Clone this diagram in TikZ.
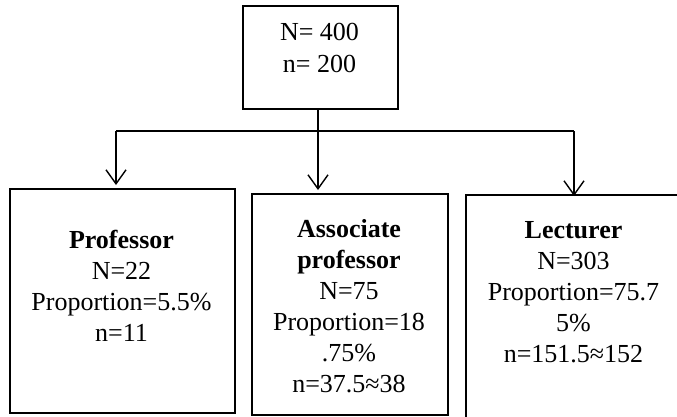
\documentclass[tikz,border=0pt]{standalone}
\usepackage{fontspec}
\setmainfont{Liberation Serif}
\usetikzlibrary{arrows.meta}
\begin{document}
\begin{tikzpicture}[x=1pt,y=-1pt,
 box/.style={draw,line width=1.6pt,inner sep=0pt,anchor=north west},
 txt/.style={align=center,inner sep=0pt,anchor=north,font=\fontsize{26}{31}\selectfont},
 conn/.style={line width=1.4pt},
 arr/.style={conn,-{Straight Barb[length=14pt,width=20pt,line width=1.4pt]}}]
\useasboundingbox (0,0) rectangle (677,416);
\clip (0,0) rectangle (677,416);
% boxes
\node[box,minimum width=155pt,minimum height=103pt] (top) at (242,5) {};
\node[box,minimum width=225pt,minimum height=224pt] (left) at (9,188) {};
\node[box,minimum width=196pt,minimum height=221pt] (mid) at (251,193) {};
\node[box,minimum width=217pt,minimum height=300pt] (right) at (465,194) {};
% texts
\node[txt,font=\fontsize{26}{32}\selectfont] (ttop) at (319.5,18) {\strut N= 400\\n= 200};
\node[txt] (tleft) at (121.5,226.3) {\strut\textbf{Professor}\\N=22\\Proportion=5.5\%\\n=11};
\node[txt] (tmid) at (349,215.3) {\strut\textbf{Associate}\\\textbf{professor}\\N=75\\Proportion=18\\.75\%\\n=37.5≈38};
\node[txt] (tright) at (573.5,216.3) {\strut\textbf{Lecturer}\\N=303\\Proportion=75.7\\5\%\\n=151.5≈152};
% connectors
\coordinate (jc) at (318,131);
\coordinate (jl) at (116,131);
\coordinate (jr) at (574,131);
\draw[conn] (jc |- top.south) -- (jc);
\draw[conn] (jl) -- (jr);
\draw[arr,shorten >=3pt] (jl) -- (jl |- left.north);
\draw[arr,shorten >=3pt] (jc) -- (jc |- mid.north);
\draw[arr,shorten >=-2pt] (jr) -- (jr |- right.north);
\end{tikzpicture}
\end{document}
